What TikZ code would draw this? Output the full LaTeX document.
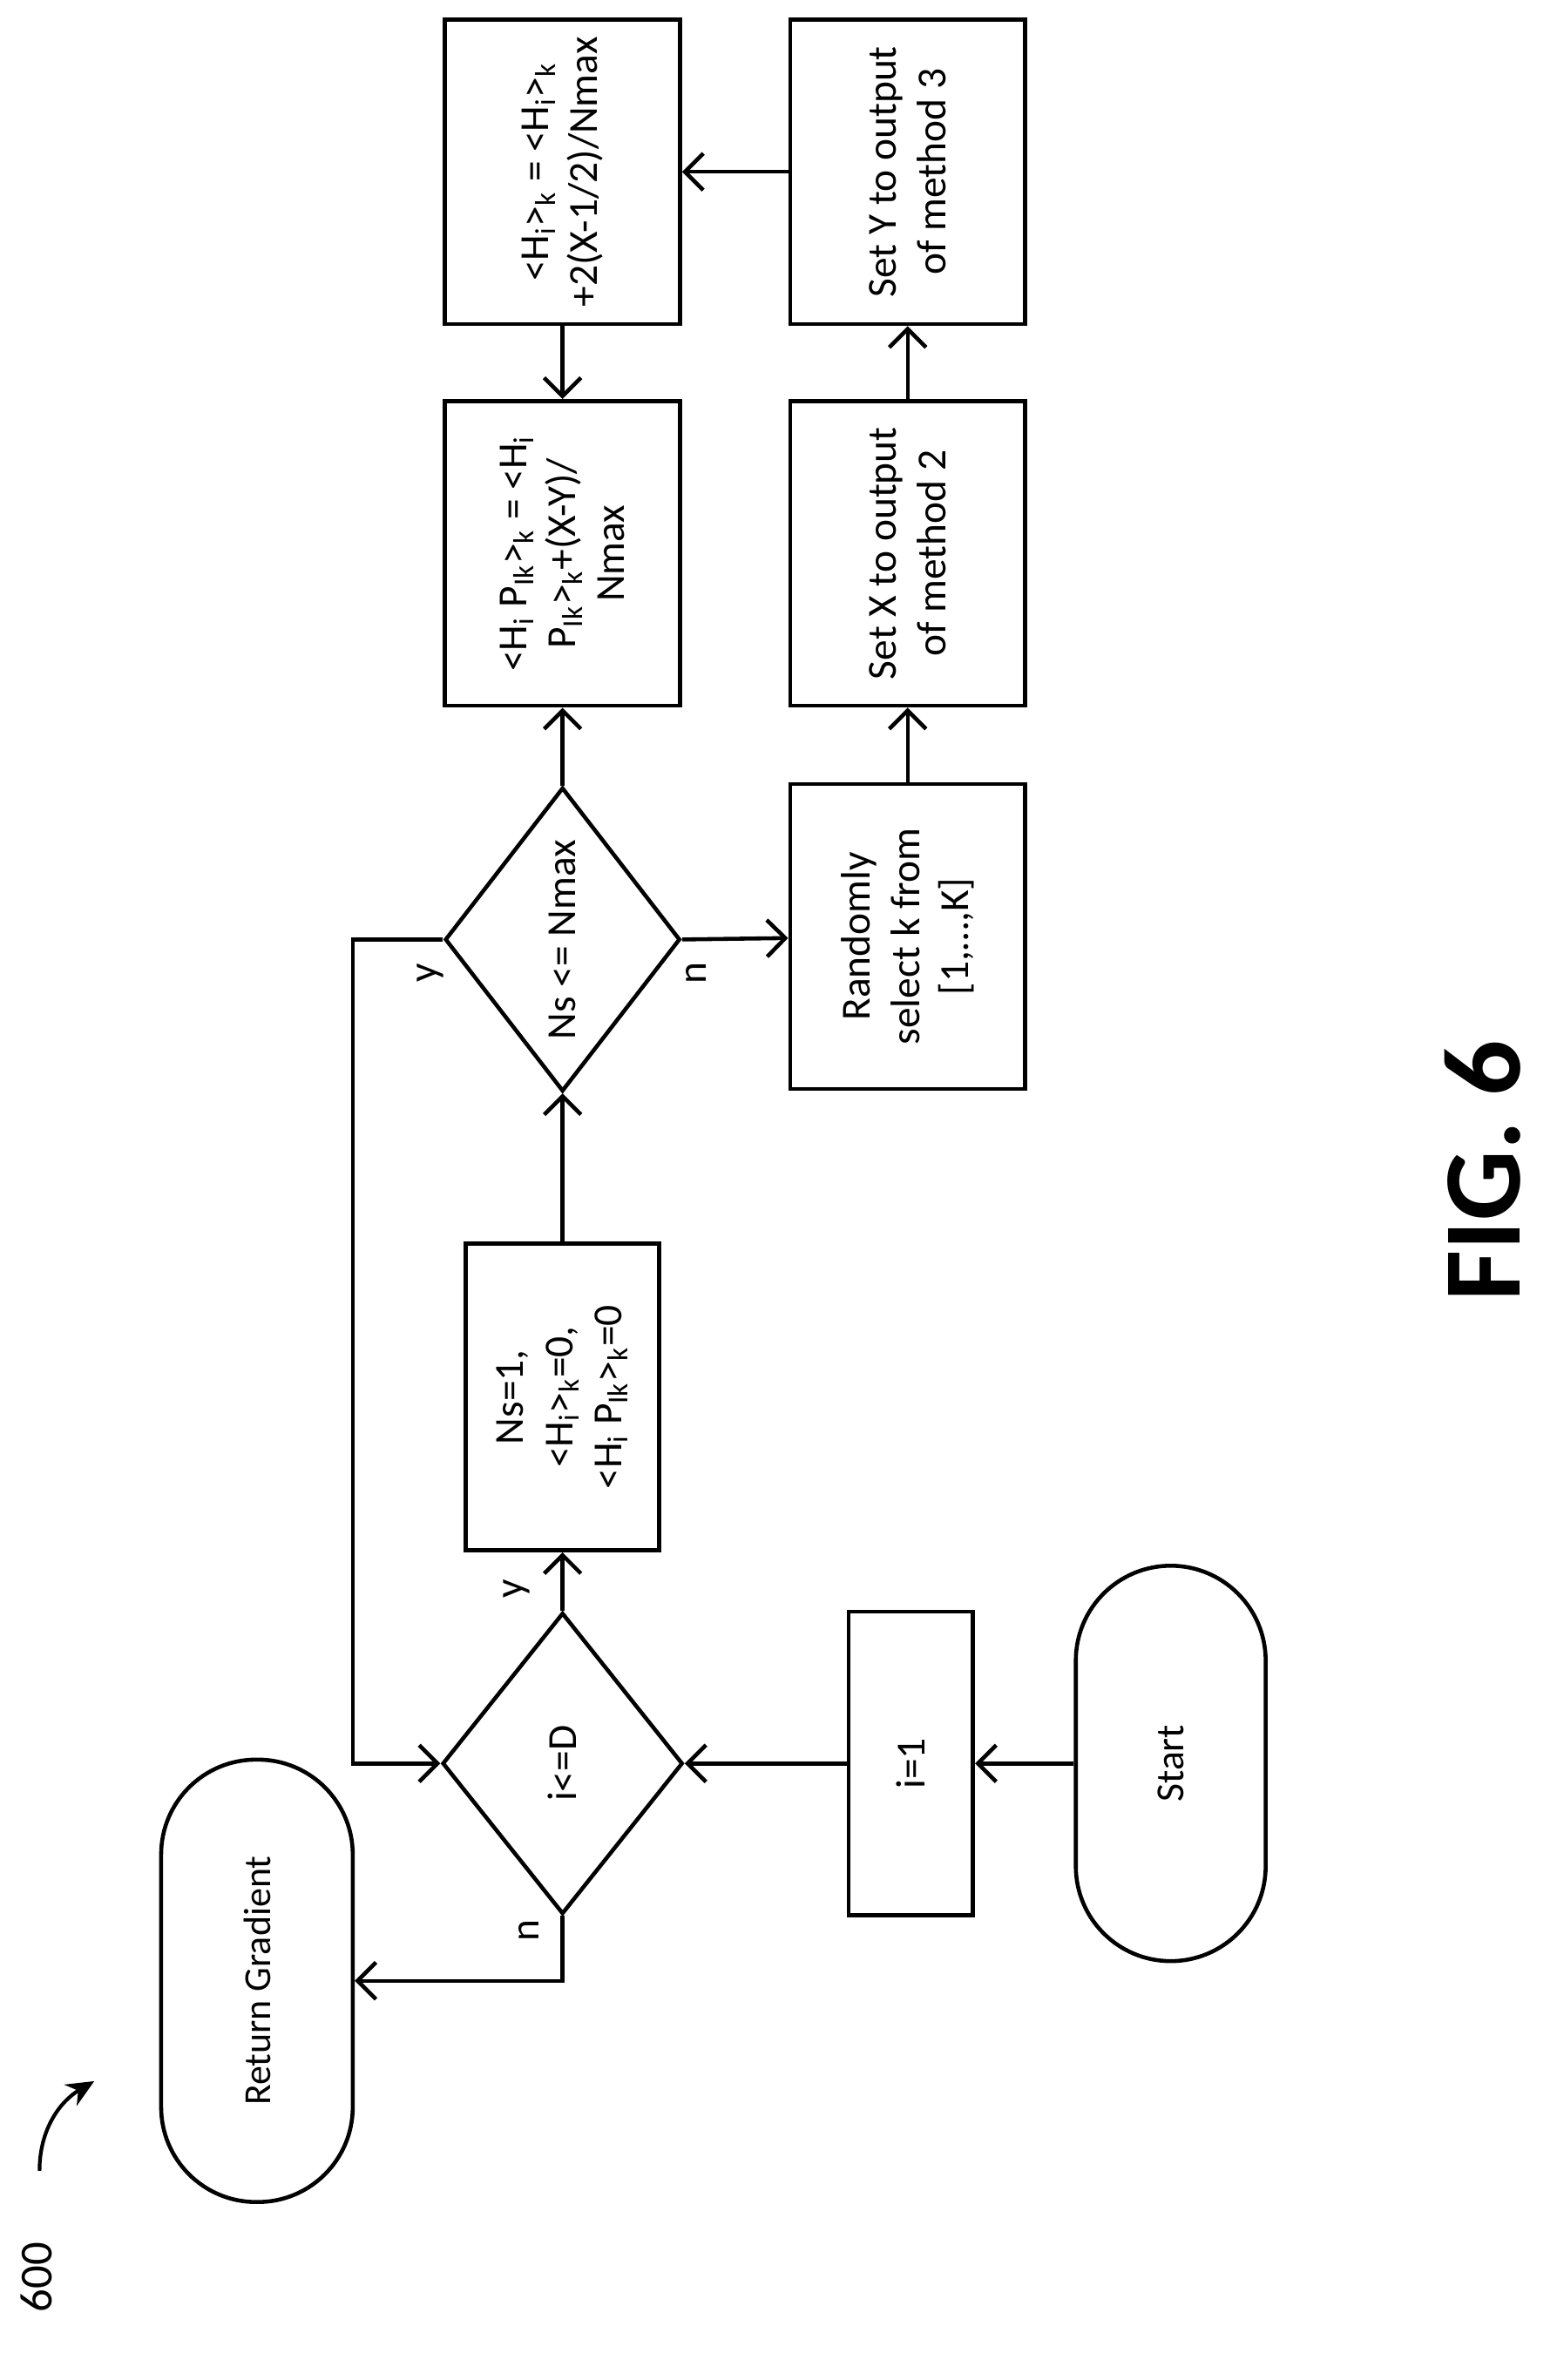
\documentclass[tikz,border=0pt]{standalone}
\usepackage{fontspec}
\setmainfont{Carlito}
\usetikzlibrary{shapes.geometric,arrows.meta}
\newcommand{\sbs}[1]{\textsubscript{#1}}
\begin{document}
\begin{tikzpicture}[x=0.01745cm,y=-0.01745cm,line width=1.3pt,
  every node/.style={rotate=90,transform shape,font=\fontsize{13.5}{16}\selectfont,align=center},
  box/.style={draw,rectangle,minimum width=3.5cm,minimum height=2.7cm,inner sep=2pt},
  dec/.style={draw,diamond,inner sep=0pt},
  arr/.style={-{Straight Barb[length=6pt,width=12pt]}},
  lab/.style={inner sep=1pt}]
\useasboundingbox (0,0) rectangle (1024,1565.6);
\node[draw,rounded corners=1.09cm,minimum width=4.54cm,minimum height=2.18cm,font=\fontsize{13}{15}\selectfont] (start) at (770,1160) {Start};
\node[box,minimum width=3.49cm,minimum height=1.43cm] (i1) at (599,1160) {i=1};
\node[dec,minimum width=3.46cm,minimum height=2.76cm] (d1) at (370,1160) {i<=D};
\node[draw,rounded corners=1.09cm,minimum width=5.08cm,minimum height=2.2cm,font=\fontsize{12.5}{15}\selectfont] (ret) at (169,1303) {Return Gradient};
\node[box,minimum width=3.52cm,minimum height=2.22cm] (ns1) at (370,919) {Ns=1,\\<H\sbs{i}>\sbs{k}=0,\\<H\sbs{i} P\sbs{Ik}>\sbs{k}=0};
\node[dec,minimum width=3.49cm,minimum height=2.7cm] (d2) at (370,618) {Ns <= Nmax};
\node[box] (hp) at (370,364) {<H\sbs{i} P\sbs{Ik}>\sbs{k} = <H\sbs{i}\\P\sbs{Ik}>\sbs{k}+(X-Y)/\\Nmax};
\node[box] (hk) at (370,113) {<H\sbs{i}>\sbs{k} = <H\sbs{i}>\sbs{k}\\+2(X-1/2)/Nmax};
\node[box] (sety) at (597,113) {Set Y to output\\of method 3};
\node[box] (setx) at (597,364) {Set X to output\\of method 2};
\node[box] (rand) at (597,616) {Randomly\\select k from\\{[1,\dots,K]}};
\coordinate (c1) at (232,618);
\draw[arr] (start) -- (i1);
\draw[arr] (i1) -- (d1);
\draw[arr] (d1.east) -- (ns1);
\draw[arr] (ns1) -- (d2.west);
\draw[arr] (d2.east) -- (hp);
\draw[arr] (hk) -- (hp);
\draw[arr] (sety) -- (hk);
\draw[arr] (setx) -- (sety);
\draw[arr] (rand) -- (setx);
\draw[arr] (d2.south) -- (rand);
\draw[arr] (d2.north) -- (c1) |- (d1.north);
\draw[arr] (d1.west) |- (ret.south);
\node[lab] (ly1) at (340,1045) {y};
\node[lab] (ly2) at (283,640) {y};
\node[lab] (ln2) at (458,640) {n};
\node[lab] (ln1) at (348,1270) {n};
\node[font=\fontsize{36}{40}\selectfont\bfseries] (fig) at (975,770) {FIG. 6};
\node[font=\fontsize{15}{17}\selectfont] (num) at (24,1498) {600};
\coordinate (ae) at (62,1369);
\draw[line width=1.2pt,-{Stealth[length=9pt,width=8pt]}] (26,1428) .. controls (26,1400) and (40,1382) .. (ae);
\end{tikzpicture}
\end{document}
